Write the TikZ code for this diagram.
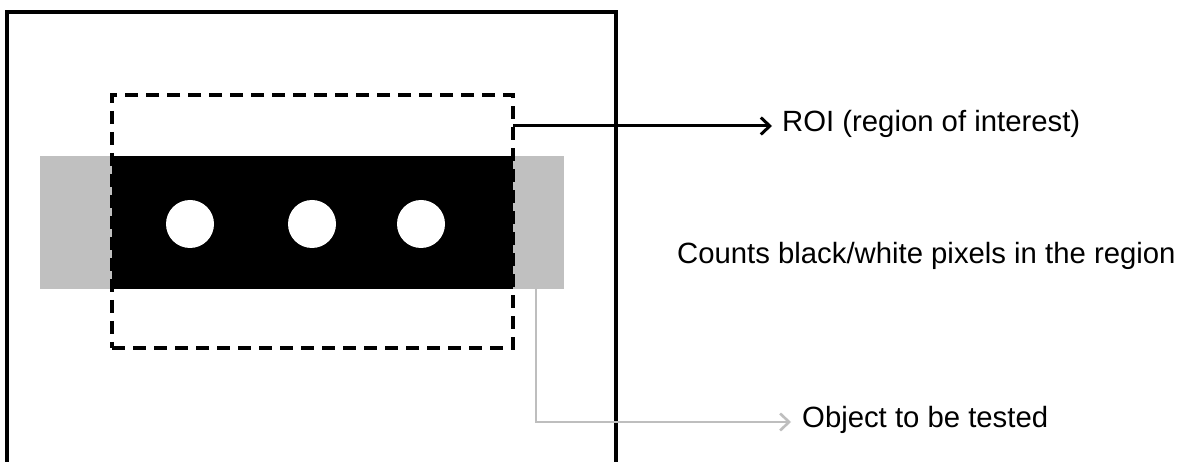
\documentclass[tikz,border=0pt]{standalone}
\usepackage{fontspec}
\setmainfont{Liberation Sans}
\usetikzlibrary{arrows.meta}
\definecolor{objgray}{RGB}{192,192,192}
\definecolor{linegray}{RGB}{190,190,190}
\begin{document}
\begin{tikzpicture}[x=1pt,y=-1pt,
  lbl/.style={font=\fontsize{29.3}{35}\selectfont, anchor=west, inner sep=0pt},
  plain/.style={inner sep=0pt, outer sep=0pt, anchor=north west},
  hole/.style={circle, fill=white, minimum size=48pt, inner sep=0pt},
  roibox/.style={draw=black, line width=3.5pt, dash pattern=on 13pt off 8pt, plain},
  frame/.style={draw=black, line width=3.5pt},
  conn/.style={draw=black, line width=3pt, -{Straight Barb[length=9pt,width=17pt]}},
  gconn/.style={draw=linegray, line width=2.6pt, -{Straight Barb[length=9pt,width=17pt]}}]
\useasboundingbox (0,0) rectangle (1181,462);
\fill[white] (0,0) rectangle (1181,462);
% object
\node[plain, fill=objgray, minimum width=524pt, minimum height=133pt] (obj) at (40,156) {};
\node[plain, fill=black, minimum width=401pt, minimum height=133pt] (blk) at (112,156) {};
\node[hole] (h1) at (190,224) {};
\node[hole] (h2) at (312,224) {};
\node[hole] (h3) at (421,224) {};
% region of interest
\node[roibox, minimum width=401pt, minimum height=253pt] (roi) at (112,95) {};
% frame
\draw[frame] (7,470) -- (7,12) -- (616,12) -- (616,470);
% labels
\node[lbl] (roitxt) at (782,124) {ROI (region of interest)};
\node[lbl] (cnttxt) at (677,256) {Counts black/white pixels in the region};
\node[lbl] (objtxt) at (802,420) {Object to be tested};
\coordinate (roiend) at (772,126);
\coordinate (objend) at (791,422);
\draw[conn] (roi.east |- roiend) -- (roiend);
\draw[gconn] ([xshift=-28pt]obj.south east) |- (objend);
\end{tikzpicture}
\end{document}
